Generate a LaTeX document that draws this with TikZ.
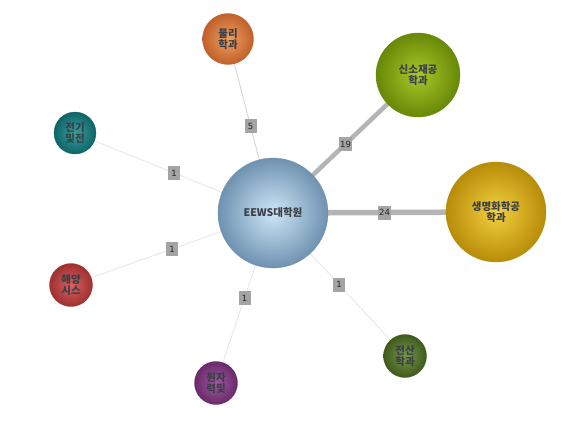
\documentclass[tikz,border=0pt]{standalone}
\usepackage{fontspec}
\newfontfamily\kr{Noto Sans CJK KR}
\newfontfamily\lbl{DejaVu Sans}
\definecolor{txt}{HTML}{3A3F45}
\definecolor{lblbg}{HTML}{A4A4A4}
\definecolor{edgethin}{HTML}{E6E6E6}
\definecolor{edgemid}{HTML}{D6D6D6}
\definecolor{edgethick}{HTML}{B4B4B4}
\definecolor{eewsIn}{HTML}{CDE6F8}
\definecolor{eewsOut}{HTML}{6F92B0}
\definecolor{physIn}{HTML}{F0A060}
\definecolor{physOut}{HTML}{C0602A}
\definecolor{matIn}{HTML}{A8C828}
\definecolor{matOut}{HTML}{688808}
\definecolor{bioIn}{HTML}{F2D040}
\definecolor{bioOut}{HTML}{B88C08}
\definecolor{eeIn}{HTML}{38A0A0}
\definecolor{eeOut}{HTML}{0E6466}
\definecolor{oceIn}{HTML}{D86060}
\definecolor{oceOut}{HTML}{A03030}
\definecolor{nucIn}{HTML}{A058A0}
\definecolor{nucOut}{HTML}{6A2A6A}
\definecolor{csIn}{HTML}{78984A}
\definecolor{csOut}{HTML}{3E5A1C}
\tikzset{
  ballnode/.style n args={3}{circle, minimum size=#1, inner sep=0pt, shading=radial, inner color=#2, outer color=#3, draw=#3, line width=0.3pt, align=center, text=txt, font=\kr\bfseries\fontsize{10.5}{11}\selectfont},
  wlabel/.style={fill=lblbg, inner sep=1.5pt, minimum height=14pt, minimum width=12pt, font=\lbl\fontsize{8.5}{9}\selectfont, text=black!85},
  thinedge/.style={draw=edgethin, line width=0.8pt},
  thickedge/.style={draw=edgethick, line width=#1},
}
\begin{document}
\begin{tikzpicture}[x=1pt,y=-1pt]
\useasboundingbox (0,0) rectangle (572,423);
\fill[white] (0,0) rectangle (572,423);
% node centres
\coordinate (cE) at (273,213);
\coordinate (cP) at (228,39);
\coordinate (cM) at (418,75);
\coordinate (cB) at (496,212);
\coordinate (cEE) at (75,133);
\coordinate (cO) at (71,285);
\coordinate (cN) at (216,383);
\coordinate (cC) at (405,356);
% edges
\draw[draw=edgemid, line width=0.9pt] (cE) -- (cP) node[pos=0.5, wlabel] (lP) {5};
\draw[thickedge=4.5pt] (cE) -- (cM) node[pos=0.5, wlabel] (lM) {19};
\draw[thickedge=5.5pt] (cE) -- (cB) node[pos=0.5, wlabel] (lB) {24};
\draw[thinedge] (cE) -- (cEE) node[pos=0.5, wlabel] (lEE) {1};
\draw[thinedge] (cE) -- (cO) node[pos=0.5, wlabel] (lO) {1};
\draw[thinedge] (cE) -- (cN) node[pos=0.5, wlabel] (lN) {1};
\draw[thinedge] (cE) -- (cC) node[pos=0.5, wlabel] (lC) {1};
% nodes
\node[ballnode={110pt}{eewsIn}{eewsOut}] (E) at (cE) {EEWS대학원};
\node[ballnode={51pt}{physIn}{physOut}] (P) at (cP) {물리\\학과};
\node[ballnode={84pt}{matIn}{matOut}] (M) at (cM) {신소재공\\학과};
\node[ballnode={100pt}{bioIn}{bioOut}] (B) at (cB) {생명화학공\\학과};
\node[ballnode={42pt}{eeIn}{eeOut}] (EE) at (cEE) {전기\\및전};
\node[ballnode={43pt}{oceIn}{oceOut}] (O) at (cO) {해양\\시스};
\node[ballnode={43pt}{nucIn}{nucOut}] (N) at (cN) {원자\\력및};
\node[ballnode={43pt}{csIn}{csOut}] (C) at (cC) {전산\\학과};
\end{tikzpicture}
\end{document}
